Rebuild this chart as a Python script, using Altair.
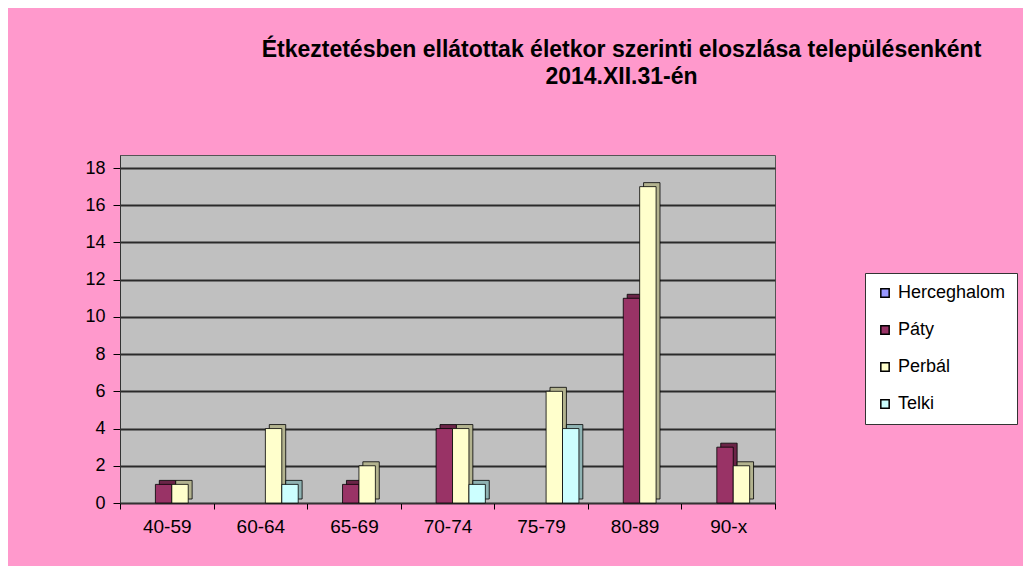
import altair as alt
import pandas as pd

ages = ["40-59", "60-64", "65-69", "70-74", "75-79", "80-89", "90-x"]
series = ["Herceghalom", "Páty", "Perbál", "Telki"]
herceghalom = [0, 0, 0, 0, 0, 0, 0]
paty = [1, 0, 1, 4, 0, 11, 3]
perbal = [1, 4, 2, 4, 6, 17, 2]
telki = [0, 1, 0, 1, 4, 0, 0]
colors = ["#9999FF", "#993366", "#FFFFCC", "#CCFFFF"]
side_colors = ["#6B6BB3", "#6B2447", "#B3B38F", "#8FB3B3"]
y_ticks = [0, 2, 4, 6, 8, 10, 12, 14, 16, 18]

rows = []
for name, vals in zip(series, [herceghalom, paty, perbal, telki]):
    for a, v in zip(ages, vals):
        rows.append({"age": a, "town": name, "value": v})
df = pd.DataFrame(rows)

FONT = "Liberation Sans"

x = alt.X("age:N", sort=ages, title=None,
          scale=alt.Scale(paddingInner=0, paddingOuter=0),
          axis=alt.Axis(labelAngle=0, labelFontSize=19, labelColor="black",
                        labelFont=FONT, tickBand="extent", tickSize=6,
                        tickColor="black", domainColor="#333333", labelPadding=8,
                        grid=False))
y = alt.Y("value:Q", title=None,
          scale=alt.Scale(domain=[0, 18.7], nice=False),
          axis=alt.Axis(values=y_ticks, labelFontSize=18, labelColor="black",
                        labelFont=FONT, tickSize=7, tickColor="black",
                        labelPadding=8, domain=True, domainColor="#333333",
                        grid=True, gridColor="#2a2a2a", gridWidth=2))

side = alt.Chart(df).transform_filter("datum.value > 0").mark_bar(
    yOffset=-4, stroke="black", strokeWidth=0.8).encode(
    x=x,
    xOffset=alt.XOffset("town:N", sort=series,
                        scale=alt.Scale(domain=series, paddingInner=0,
                                        paddingOuter=0.85, align=0.82)),
    y=y,
    fill=alt.Fill("town:N", sort=series,
                  scale=alt.Scale(domain=series, range=side_colors), legend=None),
)

front = alt.Chart(df).transform_filter("datum.value > 0").mark_bar(
    stroke="black", strokeWidth=0.8).encode(
    x=x,
    xOffset=alt.XOffset("town:N", sort=series,
                        scale=alt.Scale(domain=series, paddingInner=0,
                                        paddingOuter=0.85, align=0.68)),
    y=y,
    fill=alt.Fill("town:N", sort=series,
                  scale=alt.Scale(domain=series, range=colors),
                  legend=alt.Legend(title=None, orient="none", legendX=745,
                                    legendY=118, fillColor="white",
                                    strokeColor="#333333", padding=11,
                                    labelFontSize=18, labelFont=FONT,
                                    labelColor="black", symbolType="square",
                                    symbolSize=70, symbolStrokeColor="black",
                                    symbolStrokeWidth=1.5, rowPadding=19,
                                    labelOffset=4, labelLimit=200)),
)

chart = alt.layer(side, front).resolve_scale(
    fill="independent", xOffset="independent").properties(
    width=655, height=348,
    autosize=alt.AutoSizeParams(type="none"),
    padding={"left": 112, "top": 147, "right": 248, "bottom": 63},
    background="#FF99CC",
    title=alt.TitleParams(
        text=["Étkeztetésben ellátottak életkor szerinti eloszlása településenként",
              "2014.XII.31-én"],
        font=FONT, fontSize=23, fontWeight="bold", color="black",
        anchor="middle", frame="group", dx=174, offset=66, lineHeight=27),
).configure_view(fill="#C0C0C0", stroke="#555555")

chart.save("out.html", embed_options={"renderer": "svg", "actions": False})
